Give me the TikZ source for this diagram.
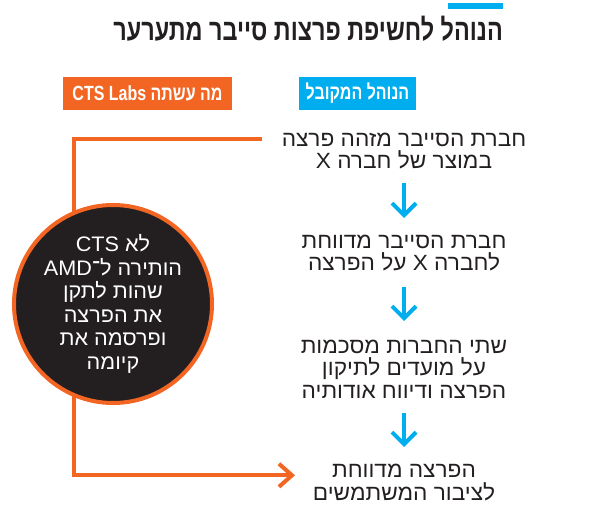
\documentclass[tikz,border=0pt]{standalone}
\usepackage{fontspec}
\usetikzlibrary{arrows.meta}
\TeXXeTstate=1
\newfontfamily\hebb[Script=Hebrew,FakeStretch=1.03]{Liberation Sans}
\newfontfamily\hebc[Script=Hebrew,FakeStretch=0.78]{Liberation Sans}
\definecolor{ink}{HTML}{231F20}
\definecolor{orng}{HTML}{F26522}
\definecolor{skyb}{HTML}{00AEEF}
\tikzset{
  body/.style={font=\hebb\fontsize{22}{22.5}\selectfont, text=ink, align=center, inner sep=0pt, anchor=base},
  hdr/.style={font=\hebc\bfseries\fontsize{20.5}{24}\selectfont, text=white, inner sep=0pt, minimum height=33pt},
  bluearrow/.style={draw=skyb, line width=4pt, -{Straight Barb[length=12pt,width=24pt]}},
  orngline/.style={draw=orng, line width=4pt, -{Straight Barb[length=13pt,width=23pt]}}
}
\begin{document}
\begin{tikzpicture}[x=1pt,y=-1pt]
\useasboundingbox (0,0) rectangle (590,516);
% title bar and title
\fill[skyb] (448,3) rectangle (503,9);
\node[anchor=base east, inner sep=0pt, font=\hebc\bfseries\fontsize{30}{32}\selectfont, text=ink] (title) at (503,41) {\beginR הנוהל לחשיפת פרצות סייבר מתערער\endR};
% headers
\node[hdr, fill=skyb, minimum width=117pt] (hb) at (357.5,93.5) {\beginR הנוהל המקובל\endR};
\node[hdr, fill=orng, minimum width=169pt] (ho) at (147.5,93.5) {\beginR מה עשתה \beginL CTS Labs\endL\endR};
% right column (anchor = baseline of last line)
\node[body] (t1) at (404,169) {\beginR חברת הסייבר מזהה פרצה\endR\\ \beginR במוצר של חברה X\endR};
\node[body] (t2) at (404,271) {\beginR חברת הסייבר מדווחת\endR\\ \beginR לחברה X על הפרצה\endR};
\node[body] (t3) at (404,398) {\beginR שתי החברות מסכמות\endR\\ \beginR על מועדים לתיקון\endR\\ \beginR הפרצה ודיווח אודותיה\endR};
\node[body] (t4) at (404,500) {\beginR הפרצה מדווחת\endR\\ \beginR לציבור המשתמשים\endR};
\coordinate (a1s) at (404,183); \coordinate (a1e) at (404,218);
\coordinate (a2s) at (404,287); \coordinate (a2e) at (404,321);
\coordinate (a3s) at (404,413); \coordinate (a3e) at (404,447);
\draw[bluearrow] (a1s) -- (a1e);
\draw[bluearrow] (a2s) -- (a2e);
\draw[bluearrow] (a3s) -- (a3e);
% orange path
\coordinate (o1) at (262,139.3);
\coordinate (o2) at (74,139.3);
\coordinate (o3) at (74,475.3);
\coordinate (o4) at (295,475.3);
\draw[orngline, line join=miter] (o1) -- (o2) -- (o3) -- (o4);
% circle
\node[circle, fill=ink, draw=orng, line width=4pt, minimum size=198pt, inner sep=0pt,
  font=\hebb\fontsize{21}{23.5}\selectfont, text=white, align=center] (circ) at (113,304)
  {\beginR לא \beginL CTS\endL\endR\\ \beginR הותירה ל־\beginL AMD\endL\endR\\ \beginR שהות לתקן\endR\\ \beginR את הפרצה\endR\\ \beginR ופרסמה את\endR\\ \beginR קיומה\endR};
\end{tikzpicture}
\end{document}
